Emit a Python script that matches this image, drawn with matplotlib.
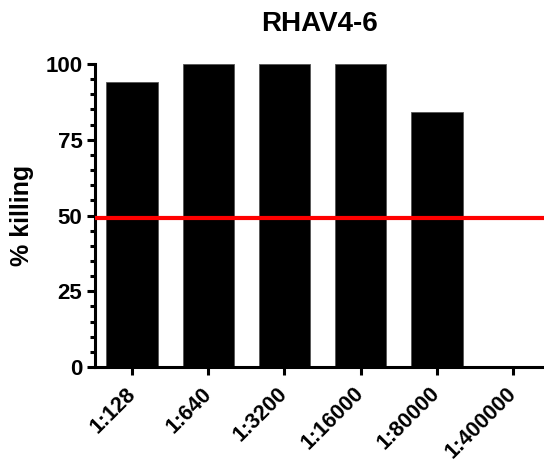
import numpy as np
import matplotlib.pyplot as plt
from matplotlib.ticker import MultipleLocator

plt.rcParams['font.family'] = ['Liberation Sans', 'DejaVu Sans']
plt.rcParams['font.weight'] = 'bold'

dilutions = ["1:128", "1:640", "1:3200", "1:16000", "1:80000", "1:400000"]
killing = [94, 100, 100, 100, 84, 0]
threshold = 49.3

fig = plt.figure(figsize=(5.44, 4.66), dpi=100)
ax = fig.add_axes([0.1746, 0.2124, 0.8254, 0.6503])

x = np.arange(len(dilutions))
ax.bar(x, killing, width=0.68, color='black', edgecolor='#555555', linewidth=0.6, zorder=2)
ax.axhline(threshold, color='#ff0000', linewidth=3, zorder=3)

ax.set_xlim(-0.49, 5.41)
ax.set_ylim(0, 100)
ax.set_xticks(x)
ax.set_xticklabels(dilutions, rotation=45, ha='right', va='center', rotation_mode='anchor',
                   fontsize=15.5, fontweight='bold')
ax.set_yticks([0, 25, 50, 75, 100])
ax.yaxis.set_minor_locator(MultipleLocator(5))
ax.tick_params(axis='y', which='major', labelsize=16, width=2.2, length=6, pad=3)
ax.tick_params(axis='y', which='minor', width=2.2, length=3.5)
ax.tick_params(axis='x', which='major', width=2.2, length=6, pad=11)
for lab in ax.get_yticklabels():
    lab.set_fontweight('bold')

for s in ['top', 'right']:
    ax.spines[s].set_visible(False)
for s in ['left', 'bottom']:
    ax.spines[s].set_linewidth(2.2)

ax.set_ylabel("% killing", fontsize=18, fontweight='bold', labelpad=8)
ax.set_title("RHAV4-6", fontsize=20, fontweight='bold', pad=24)

plt.savefig("out.png", dpi=100)
